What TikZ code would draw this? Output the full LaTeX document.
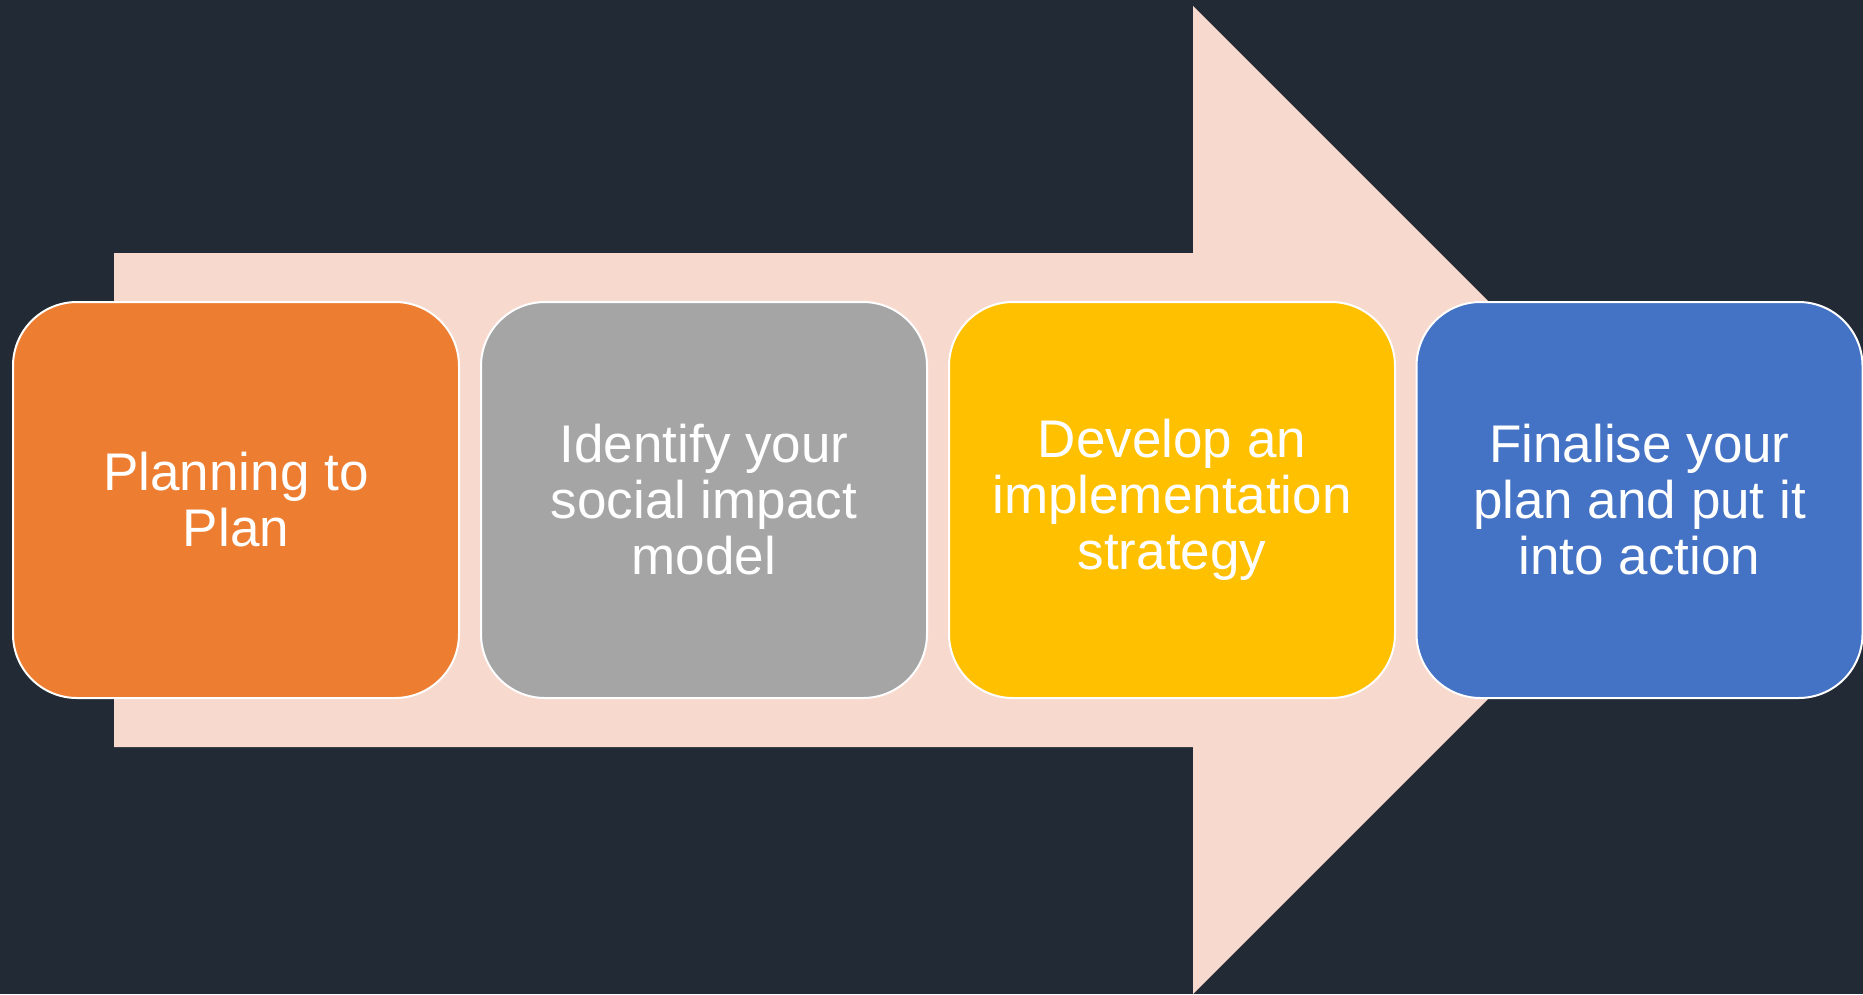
\documentclass[tikz,border=0pt]{standalone}
\usepackage{fontspec}
\setmainfont{Liberation Sans}
\definecolor{bgnavy}{HTML}{222A35}
\definecolor{arrowpink}{HTML}{F8D9CE}
\definecolor{steporange}{HTML}{ED7D31}
\definecolor{stepgrey}{HTML}{A5A5A5}
\definecolor{stepyellow}{HTML}{FFC000}
\definecolor{stepblue}{HTML}{4472C4}
\begin{document}
\begin{tikzpicture}[x=1pt,y=-1pt,
  stagebox/.style={draw=white, line width=2pt, rounded corners=64pt,
    minimum width=446pt, minimum height=396pt, inner sep=0pt,
    text=white, align=center, font=\fontsize{53}{56}\selectfont},
]
% canvas
\fill[bgnavy] (0,0) rectangle (1863,994);
\useasboundingbox (0,0) rectangle (1863,994);

% broad process arrow behind the stages
\fill[arrowpink] (114,253) -- (1193,253) -- (1193,6) -- (1687,500)
  -- (1193,994) -- (1193,747) -- (114,747) -- cycle;

% the four stages
\node[stagebox, fill=steporange] (s1) at (236,500) {Planning to\\Plan};
\node[stagebox, fill=stepgrey]   (s2) at (704,500) {Identify your\\social impact\\model};
\node[stagebox, fill=stepyellow] (s3) at (1172,500) {Develop an\\implementation\\strategy};
\node[stagebox, fill=stepblue]   (s4) at (1639.5,500) {Finalise your\\plan and put it\\into action};
\end{tikzpicture}
\end{document}
